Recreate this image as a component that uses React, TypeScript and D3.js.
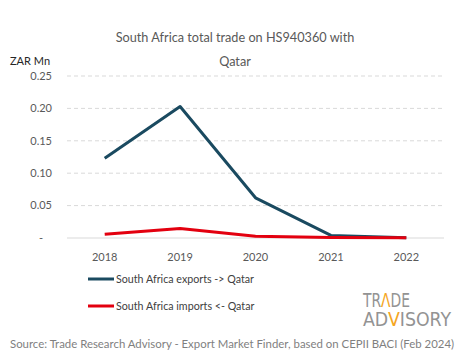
import { useEffect, useRef } from "react";
import * as d3 from "d3";

const years = ["2018", "2019", "2020", "2021", "2022"];
const exportsQatar = [0.123, 0.203, 0.062, 0.004, 0.0003];
const importsQatar = [0.0057, 0.0145, 0.0026, 0.0008, 0.0003];
const yTicks = [0, 0.05, 0.1, 0.15, 0.2, 0.25];

const seriesNames = ["South Africa exports -> Qatar", "South Africa imports <- Qatar"];
const seriesColors = ["#1a4a60", "#e3000f"];

const W = 465;
const H = 359;
const FONT = "Lato, 'Open Sans', sans-serif";

export default function App() {
  const ref = useRef<SVGSVGElement>(null);

  useEffect(() => {
    const svg = d3.select(ref.current);
    svg.selectAll("*").remove();

    const margin = { top: 76, left: 67, right: 21, bottom: 121 };
    const width = W - margin.left - margin.right;
    const height = H - margin.top - margin.bottom;

    // title
    const title = svg.append("text")
      .attr("text-anchor", "middle")
      .attr("fill", "#595959")
      .style("font-family", FONT)
      .style("font-size", "12.7px");
    title.append("tspan").attr("x", 235).attr("y", 42).text("South Africa total trade on HS940360 with");
    title.append("tspan").attr("x", 235).attr("y", 66).text("Qatar");

    svg.append("text")
      .attr("x", 10).attr("y", 65)
      .attr("fill", "#262626")
      .style("font-family", FONT)
      .style("font-size", "11px")
      .text("ZAR Mn");

    const g = svg.append("g").attr("transform", `translate(${margin.left},${margin.top})`);

    const x = d3.scaleBand().domain(years).range([0, width]).padding(0);
    const y = d3.scaleLinear().domain([0, 0.25]).range([height, 0]);

    // gridlines
    g.selectAll(".grid")
      .data(yTicks.filter((t) => t > 0))
      .enter()
      .append("line")
      .attr("x1", 0).attr("x2", width)
      .attr("y1", (d) => y(d)).attr("y2", (d) => y(d))
      .attr("stroke", "#d9d9d9")
      .attr("stroke-dasharray", "4,3");
    g.append("line")
      .attr("x1", 0).attr("x2", width)
      .attr("y1", y(0)).attr("y2", y(0))
      .attr("stroke", "#d9d9d9");

    // y tick labels
    g.selectAll(".ylab")
      .data(yTicks)
      .enter()
      .append("text")
      .attr("x", (d) => (d === 0 ? -24 : -15))
      .attr("y", (d) => y(d))
      .attr("dy", "0.35em")
      .attr("text-anchor", "end")
      .attr("fill", "#595959")
      .style("font-family", FONT)
      .style("font-size", "11px")
      .text((d) => (d === 0 ? "-" : d3.format(".2f")(d)));

    // x tick labels
    g.selectAll(".xlab")
      .data(years)
      .enter()
      .append("text")
      .attr("x", (d) => x(d)! + x.bandwidth() / 2)
      .attr("y", height + 23)
      .attr("text-anchor", "middle")
      .attr("fill", "#595959")
      .style("font-family", FONT)
      .style("font-size", "11px")
      .text((d) => d);

    const line = d3.line<number>()
      .x((_, i) => x(years[i])! + x.bandwidth() / 2)
      .y((d) => y(d));

    [exportsQatar, importsQatar].forEach((s, i) => {
      g.append("path")
        .datum(s)
        .attr("d", line)
        .attr("fill", "none")
        .attr("stroke", seriesColors[i])
        .attr("stroke-width", 3)
        .attr("stroke-linejoin", "round");
    });

    // legend
    seriesNames.forEach((name, i) => {
      const ly = 279 + i * 27;
      svg.append("line")
        .attr("x1", 88).attr("x2", 114)
        .attr("y1", ly).attr("y2", ly)
        .attr("stroke", seriesColors[i])
        .attr("stroke-width", 3);
      svg.append("text")
        .attr("x", 116).attr("y", ly)
        .attr("dy", "0.35em")
        .attr("fill", "#404040")
        .style("font-family", FONT)
        .style("font-size", "10.7px")
        .text(name);
    });

    // logo: one text per row, orange letter as a tspan
    const logo = svg.append("g")
      .style("font-family", "'Liberation Sans Narrow', 'DejaVu Sans Condensed', sans-serif")
      .style("font-size", "19.5px");
    const logoRows: [string, string][][] = [
      [["TR", "#939393"], ["Λ", "#f5a623"], ["DE", "#939393"]],
      [["AD", "#939393"], ["V", "#f5a623"], ["ISORY", "#939393"]],
    ];
    const rowTargets = [47, 88];
    logoRows.forEach((row, r) => {
      const t = logo.append("text")
        .attr("x", 363)
        .attr("y", 307 + r * 19)
        .attr("textLength", rowTargets[r])
        .attr("lengthAdjust", "spacingAndGlyphs");
      row.forEach(([s, c]) => t.append("tspan").attr("fill", c).text(s));
    });

    // source
    svg.append("text")
      .attr("x", 10).attr("y", 348)
      .attr("fill", "#7f7f7f")
      .style("font-family", FONT)
      .style("font-size", "11.4px")
      .text("Source: Trade Research Advisory - Export Market Finder, based on CEPII BACI (Feb 2024)");
  }, []);

  return <svg ref={ref} width={W} height={H} style={{ display: "block", position: "absolute", left: 0, top: 0 }} />;
}
